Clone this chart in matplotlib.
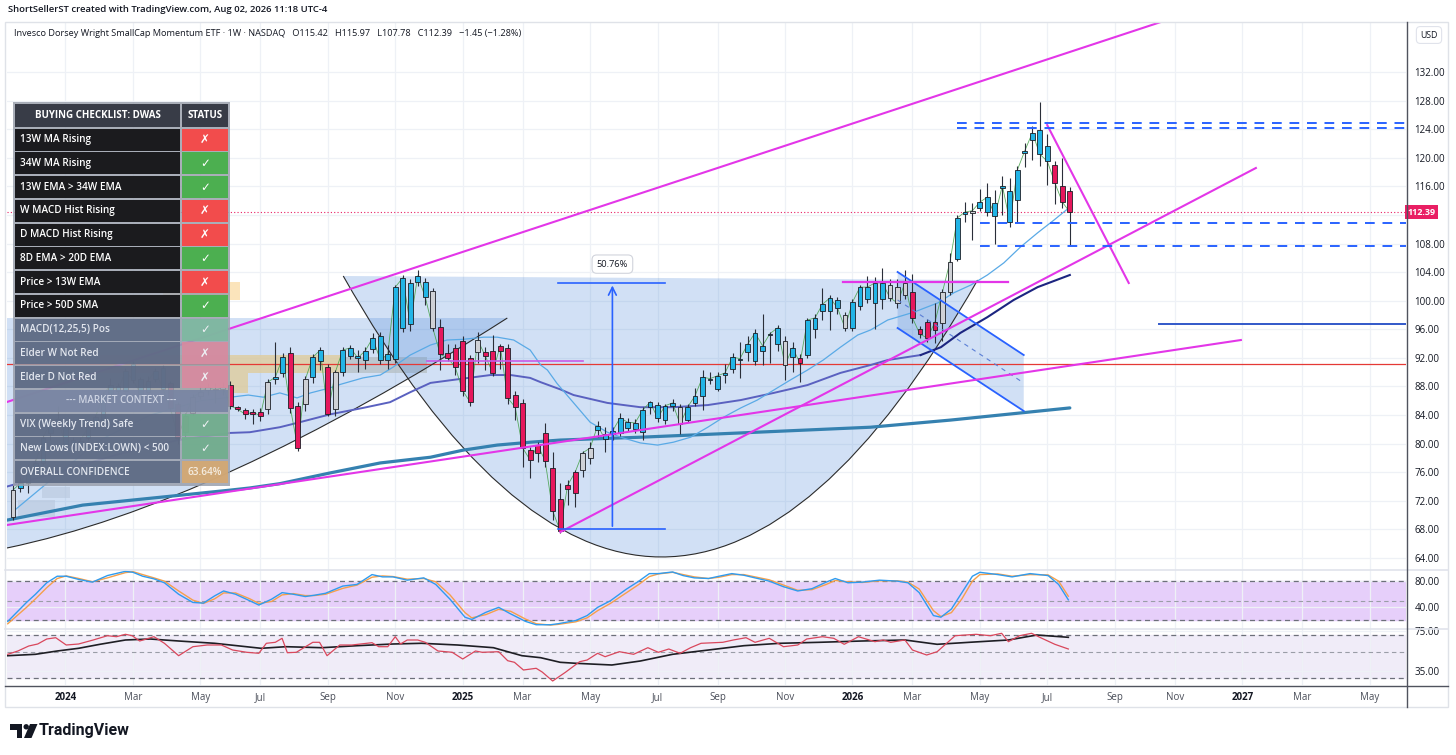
import numpy as np
import pandas as pd
import matplotlib
matplotlib.use("Agg")
import matplotlib.pyplot as plt
from matplotlib.patches import Rectangle, PathPatch, Polygon, Circle
from matplotlib.path import Path

plt.rcParams['font.family'] = ['Open Sans', 'DejaVu Sans']

# ---------------------------------------------------------------- data
START = pd.Timestamp('2023-11-13')          # first weekly bar (x = week index)

opens = [69.7, 73.8, 74.5, 76.2, 77.3, 81.5, 83.0, 82.3, 80.5, 79.8,
         80.8, 82.3, 83.0, 87.0, 88.0, 87.4, 91.2, 89.0, 87.2, 89.0,
         90.6, 88.5, 85.5, 81.6, 84.3, 86.7, 87.5, 87.7, 87.6, 88.2,
         85.1, 84.7, 84.2, 84.4, 84.8, 89.1, 89.9, 92.7, 85.3, 85.5,
         89.3, 91.6, 90.7, 84.8, 90.0, 92.3, 92.3, 91.7, 93.2, 95.0,
         91.7, 91.8, 96.2, 102.5, 102.6, 102.6, 101.4, 96.3, 92.7, 93.4,
         94.4, 92.0, 92.8, 92.8, 93.0, 93.0, 93.4, 86.8, 85.7, 79.1,
         78.7, 81.5, 76.6, 72.3, 73.6, 73.1, 76.3, 78.0, 81.9, 81.4,
         81.3, 81.5, 82.2, 82.0, 81.6, 85.1, 85.4, 83.3, 85.2, 85.1,
         83.3, 85.7, 86.7, 88.9, 87.7, 89.6, 90.4, 91.7, 92.8, 91.6,
         93.0, 95.2, 93.9, 94.4, 92.1, 92.0, 92.4, 96.1, 98.6, 98.6,
         100.1, 98.0, 96.2, 99.3, 100.3, 99.7, 100.2, 102.2, 101.9, 100.8,
         101.2, 96.0, 97.0, 95.9, 96.9, 101.2, 105.8, 112.2, 112.3, 113.0,
         112.4, 113.7, 115.8, 115.4, 114.1, 120.6, 122.5, 123.9, 121.6, 119.0,
         116.0, 115.42]
highs = [74.2, 75.4, 77.0, 77.8, 81.2, 83.5, 85.2, 82.8, 81.0, 81.0,
         82.6, 84.0, 87.2, 89.2, 88.5, 90.6, 91.6, 89.3, 89.5, 90.6,
         91.0, 88.8, 85.8, 84.3, 87.0, 88.0, 88.5, 88.5, 88.6, 88.8,
         85.3, 85.0, 84.8, 85.0, 89.0, 94.2, 92.7, 93.5, 85.8, 89.5,
         92.5, 93.5, 91.2, 90.3, 93.5, 93.8, 93.1, 93.5, 95.5, 95.6,
         93.8, 102.2, 103.6, 103.0, 104.3, 103.2, 101.8, 97.4, 94.0, 93.9,
         95.0, 92.4, 95.6, 93.5, 95.2, 94.0, 93.9, 87.3, 86.2, 79.5,
         80.3, 82.9, 78.8, 74.5, 74.9, 76.3, 79.0, 80.2, 83.2, 82.3,
         82.3, 84.3, 83.6, 83.4, 85.1, 86.0, 85.8, 85.6, 86.2, 85.5,
         85.5, 87.8, 90.3, 90.0, 90.0, 91.2, 92.7, 94.2, 95.0, 96.0,
         98.1, 95.6, 96.6, 95.0, 94.2, 92.5, 97.6, 98.2, 101.8, 100.8,
         100.5, 98.4, 100.2, 102.2, 103.5, 103.3, 104.6, 103.0, 103.0, 104.3,
         103.8, 96.5, 97.5, 99.7, 101.6, 106.7, 112.0, 113.8, 113.7, 115.7,
         116.5, 115.5, 117.4, 117.2, 118.8, 122.0, 124.5, 127.8, 123.3, 119.5,
         120.0, 115.97]
lows = [69.3, 73.2, 73.1, 75.8, 77.0, 80.5, 82.8, 79.5, 79.3, 79.5,
        80.5, 82.0, 82.8, 86.8, 87.0, 87.2, 88.5, 86.1, 86.0, 88.6,
        87.5, 84.5, 80.0, 81.0, 84.0, 86.3, 86.8, 85.7, 86.8, 84.9,
        84.5, 83.4, 82.7, 83.1, 84.2, 88.4, 89.3, 84.3, 79.0, 84.5,
        88.5, 90.3, 83.9, 83.8, 89.5, 91.8, 90.0, 90.4, 92.7, 91.2,
        90.5, 91.3, 95.6, 95.8, 102.0, 99.4, 95.8, 90.3, 91.5, 89.6,
        86.7, 85.2, 91.3, 90.3, 89.4, 90.5, 85.6, 83.3, 76.7, 75.2,
        77.5, 76.7, 69.3, 67.5, 71.4, 71.2, 75.3, 77.2, 80.9, 78.8,
        80.5, 81.1, 81.7, 81.5, 80.5, 84.1, 83.0, 82.8, 84.6, 81.4,
        83.0, 85.3, 84.7, 88.3, 87.3, 88.5, 89.9, 89.2, 91.5, 91.0,
        91.0, 91.3, 93.0, 88.9, 90.0, 88.6, 92.0, 94.8, 97.3, 95.9,
        98.2, 95.7, 95.8, 98.7, 99.7, 96.0, 98.8, 99.9, 99.0, 100.2,
        96.9, 94.8, 94.2, 94.1, 94.3, 100.8, 105.5, 111.0, 108.5, 112.5,
        111.9, 108.0, 112.0, 110.3, 110.9, 118.7, 119.7, 118.8, 116.2, 113.6,
        113.0, 107.78]
closes = [73.5, 74.5, 76.5, 77.3, 80.8, 83.0, 83.5, 79.8, 79.7, 80.4,
          82.3, 83.7, 86.8, 88.2, 87.4, 90.2, 88.9, 87.0, 88.8, 90.2,
          87.7, 85.0, 80.8, 83.9, 86.5, 87.2, 87.9, 87.5, 87.9, 85.3,
          84.8, 84.1, 84.4, 83.9, 88.6, 89.3, 92.1, 85.0, 79.4, 89.0,
          92.1, 93.1, 84.1, 90.0, 93.1, 93.4, 92.0, 93.0, 94.8, 91.7,
          92.5, 101.9, 103.2, 96.7, 103.5, 100.5, 96.2, 92.5, 92.0, 90.7,
          87.4, 85.8, 94.5, 92.3, 89.9, 93.7, 86.4, 85.1, 79.4, 77.7,
          79.8, 77.6, 70.6, 67.8, 74.2, 76.0, 78.7, 79.4, 82.5, 80.6,
          81.8, 83.6, 83.0, 82.9, 84.7, 85.8, 83.6, 85.3, 85.7, 82.7,
          85.1, 86.7, 89.3, 89.1, 89.5, 89.9, 92.1, 91.9, 93.9, 95.5,
          93.7, 95.4, 96.2, 91.0, 93.4, 91.3, 97.3, 97.6, 99.5, 100.4,
          99.0, 96.2, 99.8, 101.9, 101.9, 102.5, 102.5, 100.4, 99.7, 102.5,
          97.6, 95.3, 94.8, 97.0, 101.2, 105.4, 111.6, 112.4, 112.6, 113.8,
          114.5, 111.9, 116.1, 111.0, 118.3, 121.0, 123.5, 120.5, 119.5, 116.5,
          113.8, 112.39]
# Elder-impulse style bar colour: u = blue, d = red, n = neutral grey
impulse = ("n" "uuuuuuuuuuuuuuuuuuuu" "ddd" "nnnnn" "ddddd" "n" "uu" "dd" "n"
           "uu" "d" "n" "uuuuuuuuuuuu" "n" "ddddd" "n" "ddddddddddddd" "nn"
           "uuuuuuuuuuu" "n" "uuuuuuuuuuuuu" "n" "u" "d" "uuuuu" "n" "uuuuu"
           "nnn" "dddd" "nn" "uu" "n" "uuuuuuuuuu" "ddd")

# moving averages: (week index, price)
ema13 = [(0, 70.5), (6.3, 76), (11.6, 80.5), (18.3, 84), (25, 86), (31.4, 86.8), (33.4, 86.5),
         (35.6, 87.1), (37.9, 86.4), (39.7, 87.1), (42.3, 87.8), (43.7, 88.3), (46.7, 89.2),
         (49, 89.6), (50.7, 90.7), (53, 92.4), (55.7, 93.8), (57.9, 94.5), (60.1, 94.6),
         (62.8, 94.9), (64.6, 94.9), (66.8, 94.5), (69, 93.1), (70.4, 91.0), (71.3, 90.3),
         (72.6, 88.4), (74.8, 85.7), (77, 83), (79.3, 81.6), (81.4, 80.8), (83.7, 80.1),
         (86, 79.8), (88.1, 80.2), (90.4, 80.9), (92.7, 82.3), (94.8, 83.7), (97.1, 85),
         (99.3, 86.1), (101.5, 87.5), (103.7, 88.9), (106, 90.3), (108.1, 91.7), (110.4, 93.5),
         (112.7, 95.2), (114.4, 95.9), (116.7, 97.3), (120.2, 98.4), (123.4, 99.7),
         (125.5, 101.1), (127.8, 102.2), (130, 103.6), (132.2, 105.3), (134.4, 107.5),
         (136.7, 109.5), (138.9, 111.3), (141, 113.1)]
sma34 = [(-0.8, 74), (6, 76), (14, 78.5), (22, 80.5), (29, 81.5), (31.6, 81.6), (35.6, 82.3),
         (37.9, 82.9), (42.3, 84.1), (46.7, 85), (50.3, 85.8), (53, 87.2), (55.7, 88.5),
         (59.3, 89), (63.7, 89.6), (66.4, 89.6), (69, 89.2), (70.4, 88.6), (73, 87.6),
         (74.8, 86.8), (79.3, 85.7), (83.7, 85.1), (88.1, 85.1), (92.7, 85.4), (97.1, 86.1),
         (101.5, 87.1), (106, 88.2), (110.4, 89.9), (114.4, 91), (116.7, 91.7), (121.1, 92.4),
         (123.8, 93.5), (126.4, 95.5), (130, 97.7), (133.5, 100.1), (136.7, 101.9), (141, 103.6)]
sma40 = [(-0.8, 69.3), (9.3, 71.4), (20.6, 72.6), (29, 73.5), (31.6, 73.8), (35.6, 74.4),
         (42.3, 75.9), (49, 77.3), (55.7, 78.1), (60.1, 79.1), (64.6, 79.8), (69, 80.2),
         (73, 80.5), (83.7, 80.9), (97.1, 81.5), (114.4, 82.3), (125.1, 83.3), (141, 85.0)]

# oscillator pane 1 (two lines)
osc_k = [(-0.7, 18.5), (1.8, 47.5), (3, 60), (4.5, 77.5), (5.9, 87.5), (7.1, 87.5), (8.8, 82.5),
         (10.6, 78.5), (12.6, 88.5), (15, 95), (16, 93.5), (17.3, 87.5), (18.8, 83.5), (20.2, 77.5),
         (22.1, 60), (24, 47.5), (25.4, 46.5), (26.9, 57.5), (28.1, 65), (29.7, 60), (31.6, 50),
         (32.8, 43.5), (34.5, 52.5), (35.9, 62.5), (37.4, 60), (39, 56.5), (40.2, 58.5), (41.7, 61.5),
         (44, 72.5), (45.9, 75), (47.9, 90), (49.3, 86.5), (50.7, 86.5), (52.6, 81.5), (54.8, 85),
         (56.4, 75), (58.3, 52.5), (60.3, 25), (61.2, 21.5), (63.1, 32.5), (64.8, 40), (66.4, 30),
         (68.4, 18.5), (69.8, 13.5), (71.7, 13.5), (72.7, 15), (75.1, 20), (76.6, 27.5), (78, 40),
         (79.7, 50), (81.8, 67.5), (83.5, 80), (84.9, 91.5), (86.1, 91.5), (88, 94), (89.4, 88.5),
         (90.9, 85), (92.8, 84), (94.2, 87.5), (95.9, 91.5), (97.5, 89), (99, 85), (100.9, 80),
         (102.8, 71.5), (104.7, 65), (106.6, 68.5), (108.5, 78.5), (109.7, 84), (111.4, 77.5),
         (113.3, 78.5), (115.6, 81.5), (118, 80), (119.4, 77.5), (120.9, 62.5), (122.8, 27.5),
         (123.8, 25), (125.2, 37.5), (126.6, 62.5), (128, 87.5), (129, 93.5), (131.4, 90),
         (133.3, 86.5), (135.7, 91.5), (138.1, 88.5), (139.5, 75), (140.8, 51.5)]
osc_d = [(-0.7, 15), (1.8, 40), (3, 53), (4.5, 70), (5.9, 84), (7.1, 88), (8.8, 84), (10.6, 79),
         (12.6, 85), (15, 93), (16, 94.5), (17.3, 90), (18.8, 85), (20.2, 80), (22.1, 65), (24, 51),
         (25.4, 46), (26.9, 53), (28.1, 62), (29.7, 62), (31.6, 53), (32.8, 46), (34.5, 49),
         (35.9, 59), (37.4, 61), (39, 58), (40.2, 58), (41.7, 60), (44, 69), (45.9, 74), (47.9, 86),
         (49.3, 88), (50.7, 87), (52.6, 83), (54.8, 84), (56.4, 79), (58.3, 59), (60.3, 32),
         (61.2, 24), (63.1, 29), (64.8, 37), (66.4, 34), (68.4, 22), (69.8, 15), (71.7, 13),
         (72.7, 14), (75.1, 18), (76.6, 24), (78, 35), (79.7, 46), (81.8, 62), (83.5, 75), (84.9, 87),
         (86.1, 91), (88, 93.5), (89.4, 90), (90.9, 86.5), (92.8, 84), (94.2, 86), (95.9, 90),
         (97.5, 90), (99, 86.5), (100.9, 82), (102.8, 74), (104.7, 66), (106.6, 67), (108.5, 75),
         (109.7, 81), (111.4, 79), (113.3, 78), (115.6, 80.5), (118, 80.5), (119.4, 78.5),
         (120.9, 68), (122.8, 35), (123.8, 26), (125.2, 32), (126.6, 53), (128, 80), (129, 90),
         (131.4, 91), (133.3, 87.5), (135.7, 90), (138.1, 89.5), (139.5, 80), (140.8, 57)]

# oscillator pane 2 (red line and its black average)
rs_x = [-0.7, 0.65, 2.1, 3.3, 4.5, 5.7, 7.1, 8.75, 10.7, 12.6, 13.8, 15, 15.9, 16.9, 18.8, 20.2,
        22.1, 24, 25.9, 27.8, 29.3, 31.2, 32.8, 33.8, 35, 35.9, 36.6, 37.8, 40, 40.9, 41.9, 43.6,
        45.2, 47.9, 48.8, 50, 51, 51.7, 52.6, 54, 55, 56.7, 58.6, 60, 61.7, 62.6, 64.8, 66, 66.9,
        68.1, 69.8, 70.6, 72, 73.7, 75.6, 76.6, 78, 79, 80.9, 82.8, 84.7, 86.1, 87.5, 89, 90.4,
        91.8, 94.7, 96.1, 97.8, 99, 100.9, 102.8, 104.7, 105.9, 108, 109.5, 110.9, 112.8, 115,
        116.1, 117.1, 119, 120, 121.9, 123.3, 125.7, 128.5, 130.4, 131.9, 132.8, 134.3, 135.9,
        137.1, 139, 140.8]
rs_v = [51.7, 55, 60, 62, 67, 68.3, 61, 62, 66, 70.3, 69.3, 71.7, 70.3, 65, 69.3, 62.7, 50.3,
        59.3, 61, 61, 56, 53.7, 52.7, 62.7, 63.7, 67.7, 53.3, 53.7, 63.7, 63.7, 50.3, 61, 61,
        63.3, 59.3, 59.3, 69.3, 62, 66, 66, 63.7, 55, 53.7, 47, 55, 53.7, 54.3, 45.3, 43.7, 36,
        37.7, 34, 25, 33.7, 44.3, 46, 52.7, 49.3, 54.3, 51.7, 58.3, 53.7, 57, 52.7, 58.3, 62.7,
        63.7, 66, 68.3, 63.7, 67.7, 59.3, 61, 67, 69.3, 67.7, 61.7, 69.3, 64.3, 66, 63.7, 66, 56,
        51, 54.3, 70.3, 71.7, 70.3, 72.7, 64.3, 70.3, 72.7, 68.3, 61.7, 57]
rsma_x = [-0.7, 3, 5.9, 8.75, 11.6, 15, 18.3, 22.1, 26.9, 33.1, 36.4, 41.2, 45.9, 50.7, 54.5,
          59.3, 64.1, 67.9, 70.4, 73, 75.1, 79.9, 83.7, 88, 92.8, 97.5, 102.3, 107.6, 113.3, 119,
          123.3, 127.6, 132.8, 136.6, 140.8]
rsma_v = [50.3, 51.7, 55, 57.7, 61.7, 66, 67, 65, 62.7, 57.7, 59.3, 58.3, 60.3, 62, 62.7, 61,
          58.3, 50.3, 48.3, 43.7, 42.7, 41, 45, 51.7, 56, 60.3, 62.7, 63.7, 65, 66, 61.7, 63.7,
          66, 71, 68.7]

# drawings (week index, price)
trend_upper = [(-0.8, 85.83), (153.14, 139.0)]
trend_lower = [(-0.8, 68.62), (163.82, 94.50)]
trend_rise = [(73.03, 67.64), (165.82, 118.57)]
trend_fall = [(137.98, 124.58), (148.86, 102.48)]
cup_arc = [(44.06, 103.46), (86.38, 25.10), (128.70, 102.90)]
left_arc = [(-0.80, 65.40), (26.97, 71.41), (65.95, 97.58)]
chan_top = [(118.02, 104.02), (134.85, 92.40)]
chan_bot = [(118.02, 96.18), (134.85, 84.57)]
resist_dash = [(126.0, 124.85), (126.0, 124.10), (129.0, 110.83), (129.0, 107.70)]
support_solid = (152.9, 96.7)
base_line = (110.8, 132.8, 102.6)
violet_line = (55.3, 76.0, 91.6)
red_level = 91.1
measure = dict(x0=72.76, x1=87.05, xm=79.97, lo=68.06, hi=102.52, label='50.76%')
tan_boxes = [(11.6, 44.06, 89.88, 92.40), (18.3, 31.4, 87.09, 89.88)]
tan_light = (44.06, 55.27, 89.88, 92.12)
orange_box = (20.0, 30.3, 100.1, 102.6)
grey_boxes = [(3.87, 7.61, 72.39, 73.93), (0.67, 5.61, 69.74, 72.11)]
last_price = 112.39

price_ticks = list(range(64, 133, 4))
month_ticks = ['2024-01-01', '2024-03-04', '2024-05-06', '2024-07-01', '2024-09-02', '2024-11-04',
               '2025-01-06', '2025-03-03', '2025-05-05', '2025-07-07', '2025-09-01', '2025-11-03',
               '2026-01-05', '2026-03-02', '2026-05-04', '2026-07-06', '2026-09-07', '2026-11-02',
               '2027-01-04', '2027-03-01', '2027-05-03']
month_labels = ['2024', 'Mar', 'May', 'Jul', 'Sep', 'Nov', '2025', 'Mar', 'May', 'Jul', 'Sep', 'Nov',
                '2026', 'Mar', 'May', 'Jul', 'Sep', 'Nov', '2027', 'Mar', 'May']

check_items = ['13W MA Rising', '34W MA Rising', '13W EMA > 34W EMA', 'W MACD Hist Rising',
               'D MACD Hist Rising', '8D EMA > 20D EMA', 'Price > 13W EMA', 'Price > 50D SMA',
               'MACD(12,25,5) Pos', 'Elder W Not Red', 'Elder D Not Red', '--- MARKET CONTEXT ---',
               'VIX (Weekly Trend) Safe', 'New Lows (INDEX:LOWN) < 500', 'OVERALL CONFIDENCE']
check_status = ['✗', '✓', '✓', '✗', '✗', '✓', '✗', '✓', '✓', '✗', '✗', '', '✓', '✓', '63.64%']

# ---------------------------------------------------------------- figure
W, H = 1456, 755
fig = plt.figure(figsize=(W / 100, H / 100), dpi=100)
fig.patch.set_facecolor('white')


def frect(l, t, r, b):
    return [l / W, 1 - b / H, (r - l) / W, (b - t) / H]


ax = fig.add_axes(frect(7, 22, 1406, 570))
ax1 = fig.add_axes(frect(7, 570, 1406, 629), sharex=ax)
ax2 = fig.add_axes(frect(7, 629, 1406, 685), sharex=ax)

XMIN, XMAX = -0.8, 185.85
GRID = '#eef1f6'
TXT = '#131722'
BLUE = '#2962ff'
MAG = '#e336e8'
FILL = '#4a86d8'

tick_pos = [(pd.Timestamp(d) - START).days / 7.0 for d in month_ticks]

for a in (ax, ax1, ax2):
    a.set_facecolor('white')
    for s in a.spines.values():
        s.set_visible(False)
    a.set_xticks(tick_pos)
    a.grid(True, color=GRID, lw=0.9, zorder=0)
    a.set_axisbelow(True)
    a.yaxis.tick_right()
    a.tick_params(axis='y', length=0, pad=6, labelsize=7, labelcolor=TXT)
    a.tick_params(axis='x', length=0)
ax.set_xlim(XMIN, XMAX)
ax.tick_params(axis='x', labelbottom=False)
ax1.tick_params(axis='x', labelbottom=False)
ax2.set_xticklabels(month_labels)
ax2.tick_params(axis='x', labelsize=7, labelcolor='#4a4e59', pad=5)
for lbl in ax2.get_xticklabels():
    if lbl.get_text().isdigit():
        lbl.set_fontweight('bold')
        lbl.set_color(TXT)

# ---------------------------------------------------------------- main pane
ax.set_ylim(62.32, 139.0)
ax.set_yticks(price_ticks)
# the 112 label sits under the last-price tag, as in the original
ax.set_yticklabels(['' if abs(v - last_price) < 2 else f'{v:.2f}' for v in price_ticks])

# background zones
x0, x1, y0, y1 = tan_light
ax.add_patch(Rectangle((x0, y0), x1 - x0, y1 - y0, fc='#d8cfb8', ec='none', alpha=0.7, zorder=1.2))
for (x0, x1, y0, y1) in tan_boxes:
    ax.add_patch(Rectangle((x0, y0), x1 - x0, y1 - y0, fc='#e0cc9c', ec='none', alpha=0.8, zorder=1.7))
x0, x1, y0, y1 = orange_box
ax.add_patch(Rectangle((x0, y0), x1 - x0, y1 - y0, fc='#fbe1b4', ec='none', alpha=0.9, zorder=1))
for (x0, x1, y0, y1) in grey_boxes:
    ax.add_patch(Rectangle((x0, y0), x1 - x0, y1 - y0, fc='#dedede', ec='none', alpha=0.6, zorder=1))

# cup arc (quadratic curve) with fill
p0, p1, p2 = cup_arc
ax.add_patch(PathPatch(Path([p0, p1, p2, p0], [Path.MOVETO, Path.CURVE3, Path.CURVE3, Path.CLOSEPOLY]),
                       fc=FILL, ec='none', alpha=0.25, zorder=1.5))
ax.add_patch(PathPatch(Path([p0, p1, p2], [Path.MOVETO, Path.CURVE3, Path.CURVE3]),
                       fc='none', ec='#2b2b2b', lw=0.8, zorder=3))
# left curved wedge
q0, q1, q2 = left_arc
ax.add_patch(PathPatch(Path([q0, q1, q2, (XMIN - 2, q2[1]), (XMIN - 2, q0[1]), q0],
                            [Path.MOVETO, Path.CURVE3, Path.CURVE3, Path.LINETO, Path.LINETO, Path.CLOSEPOLY]),
                       fc=FILL, ec='none', alpha=0.25, zorder=1.5))
ax.add_patch(PathPatch(Path([q0, q1, q2], [Path.MOVETO, Path.CURVE3, Path.CURVE3]),
                       fc='none', ec='#2b2b2b', lw=0.8, zorder=3))
# descending channel
ax.add_patch(Polygon([chan_top[0], chan_top[1], chan_bot[1], chan_bot[0]], closed=True,
                     fc=FILL, ec='none', alpha=0.25, zorder=1.5))
for seg in (chan_top, chan_bot):
    ax.plot([seg[0][0], seg[1][0]], [seg[0][1], seg[1][1]], color=BLUE, lw=1.3, zorder=6)
mid = [((chan_top[i][0] + chan_bot[i][0]) / 2, (chan_top[i][1] + chan_bot[i][1]) / 2) for i in range(2)]
ax.plot([mid[0][0], mid[1][0]], [mid[0][1], mid[1][1]], color='#5b7fd6', lw=0.8, ls=(0, (4, 4)), zorder=6)

# moving averages
xs_, ys_ = zip(*sma40)
ax.plot(xs_, ys_, color='#3581b0', lw=2.3, zorder=3, solid_capstyle='round')
xs_, ys_ = zip(*sma34)
xs_ = np.array(xs_); ys_ = np.array(ys_)
early = xs_ <= 121.1
ax.plot(xs_[early], ys_[early], color='#5a61c0', lw=1.4, zorder=3)
ax.plot(xs_[~early | (xs_ == 121.1)], ys_[~early | (xs_ == 121.1)], color='#1c2580', lw=1.5, zorder=3)
xs_, ys_ = zip(*ema13)
ax.plot(xs_, ys_, color='#5aaae6', lw=0.9, zorder=3)

# candles
idx = np.arange(len(closes))
o = np.array(opens); c = np.array(closes)
col_map = {'u': '#22b4e6', 'd': '#e6175c', 'n': '#cfd1d6'}
bar_cols = [col_map[k] for k in impulse]
lo_body = np.minimum(o, c)
h_body = np.maximum(np.abs(c - o), 0.18)
ax.plot(idx, closes, color='#43a047', lw=0.6, alpha=0.85, zorder=4)
ax.vlines(idx, lows, highs, color='#2a2e39', lw=0.8, zorder=4.5)
ax.bar(idx, h_body, bottom=lo_body, width=0.64, color=bar_cols, edgecolor='#1c1f26',
       linewidth=0.6, zorder=5)

# trend lines
for seg in (trend_upper, trend_lower, trend_rise, trend_fall):
    ax.plot([seg[0][0], seg[1][0]], [seg[0][1], seg[1][1]], color=MAG, lw=1.5, zorder=6)
ax.plot([base_line[0], base_line[1]], [base_line[2]] * 2, color=MAG, lw=1.6, zorder=6)
ax.plot([violet_line[0], violet_line[1]], [violet_line[2]] * 2, color='#c75ae8', lw=1.2, zorder=6)
ax.axhline(red_level, color='#e53935', lw=0.9, zorder=2.5)
for (xs0, yv) in resist_dash:
    ax.plot([xs0, XMAX], [yv, yv], color=BLUE, lw=1.4, ls=(0, (5, 4)), zorder=6)
ax.plot([support_solid[0], XMAX], [support_solid[1]] * 2, color='#3158c9', lw=1.4, zorder=6)
ax.axhline(last_price, color='#e91e63', lw=0.8, ls=(0, (1, 2)), zorder=2.5)

# price range measurement
m = measure
ax.plot([m['x0'], m['x1']], [m['hi'], m['hi']], color=BLUE, lw=1.2, zorder=6)
ax.plot([m['x0'], m['x1']], [m['lo'], m['lo']], color=BLUE, lw=1.2, zorder=6)
ax.annotate('', xy=(m['xm'], m['hi']), xytext=(m['xm'], m['lo']),
            arrowprops=dict(arrowstyle='->', color=BLUE, lw=1.2, mutation_scale=14), zorder=6)
ax.text(m['xm'], m['hi'] + 2.6, m['label'], ha='center', va='center', fontsize=6.7, color=TXT, zorder=7,
        bbox=dict(boxstyle='round,pad=0.5', fc='white', ec='#d1d4dc', lw=0.8))

# last price tag
ax.text(1.0012, last_price, f'{last_price:.2f}', transform=ax.get_yaxis_transform(),
        ha='left', va='center', fontsize=6.5, color='white', fontweight='bold', zorder=8, clip_on=False,
        bbox=dict(boxstyle='square,pad=0.3', fc='#e91e63', ec='none'))

# ---------------------------------------------------------------- pane 1
ax1.set_ylim(7, 97)
ax1.set_yticks([80, 40])
ax1.set_yticklabels(['80.00', '40.00'])
ax1.axhspan(20, 80, color='#e6cffa', zorder=0.5)
ax1.axhline(80, color='#6d707a', lw=0.9, ls=(0, (4, 3)), zorder=1)
ax1.axhline(50, color='#9a9da7', lw=0.8, ls=(0, (4, 3)), zorder=1)
ax1.axhline(20, color='#6d707a', lw=0.9, ls=(0, (4, 3)), zorder=1)
kx, kv = zip(*osc_k)
dx, dv = zip(*osc_d)
ax1.plot(dx, dv, color='#f5a04b', lw=1.0, zorder=3)
ax1.plot(kx, kv, color='#2f9bef', lw=1.0, zorder=3)

# ---------------------------------------------------------------- pane 2
ax2.set_ylim(21, 77)
ax2.set_yticks([75, 35])
ax2.set_yticklabels(['75.00', '35.00'])
ax2.axhspan(28, 71, color='#f0ecf8', zorder=0.5)
ax2.axhline(71, color='#6d707a', lw=0.9, ls=(0, (4, 3)), zorder=1)
ax2.axhline(54, color='#9a9da7', lw=0.8, ls=(0, (4, 3)), zorder=1)
ax2.axhline(28, color='#6d707a', lw=0.9, ls=(0, (4, 3)), zorder=1)
ax2.plot(rsma_x, rsma_v, color='#1e1e24', lw=1.2, zorder=3)
ax2.plot(rs_x, rs_v, color='#d9475c', lw=0.9, zorder=3)

# ---------------------------------------------------------------- overlay (frame, legend, table, logo)
ui = fig.add_axes([0, 0, 1, 1])
ui.set_xlim(0, W)
ui.set_ylim(H, 0)
ui.axis('off')
ui.set_zorder(10)
ui.patch.set_alpha(0)

ui.add_patch(Rectangle((5, 22), 1443, 685, fc='none', ec='#dfe2e8', lw=1))
ui.plot([5, 1448], [570, 570], color='#e0e3eb', lw=1.2)
ui.plot([5, 1448], [629, 629], color='#e0e3eb', lw=1.2)
ui.plot([5, 1448], [685.5, 685.5], color='#50535e', lw=1)
ui.plot([1406.5, 1406.5], [22, 707], color='#50535e', lw=1)

ui.text(8, 10, 'ShortSellerST created with TradingView.com, Aug 02, 2026 11:18 UTC-4',
        fontsize=6.8, color=TXT, va='center', ha='left', fontweight='semibold')
ui.text(14, 33, 'Invesco Dorsey Wright SmallCap Momentum ETF · 1W · NASDAQ   O115.42   H115.97   '
        'L107.78   C112.39   −1.45 (−1.28%)', fontsize=6.6, color=TXT, va='center', ha='left')
ui.text(1429, 35, 'USD', ha='center', va='center', fontsize=6.3, color=TXT,
        bbox=dict(boxstyle='round,pad=0.45', fc='white', ec='#e0e3eb', lw=0.8))

# checklist table
TX0, TSPLIT, TX1 = 15, 181, 228
ui.add_patch(Rectangle((13, 102), 217, 384, fc='#9aa0ac', ec='none', alpha=0.85, zorder=1))
ui.add_patch(Rectangle((TX0, 104), TSPLIT - TX0 - 1, 23, fc='#383c47', zorder=2))
ui.add_patch(Rectangle((TSPLIT + 1, 104), TX1 - TSPLIT - 1, 23, fc='#383c47', zorder=2))
ui.text((TX0 + TSPLIT) / 2, 115.5, 'BUYING CHECKLIST: DWAS', ha='center', va='center',
        fontsize=7, color='white', fontweight='bold', zorder=3)
ui.text((TSPLIT + TX1) / 2 + 0.5, 115.5, 'STATUS', ha='center', va='center',
        fontsize=7, color='white', fontweight='bold', zorder=3)
RH = 23.75
for i, (item, st) in enumerate(zip(check_items, check_status)):
    top = 128.5 + i * RH
    hgt = RH - 1.6
    yc = top + hgt / 2
    dark = i < 8
    if item.startswith('---'):
        ui.add_patch(Rectangle((TX0, top), TX1 - TX0, hgt, fc='#7784a2', alpha=0.9, zorder=2))
        ui.text((TX0 + TX1) / 2, yc, item, ha='center', va='center', fontsize=7.1,
                color='#cdd3e2', zorder=3, fontweight='semibold')
        continue
    ui.add_patch(Rectangle((TX0, top), TSPLIT - TX0 - 1, hgt,
                           fc='#1b1b1e' if dark else '#5a6782', alpha=1 if dark else 0.88, zorder=2))
    if st == '✗':
        sc = '#f24c4c' if dark else '#d98a9f'
    elif st == '✓':
        sc = '#4caf50' if dark else ('#7db9a0' if i == 8 else '#6fae8c')
    else:
        sc = '#d6a870'
    ui.add_patch(Rectangle((TSPLIT + 1, top), TX1 - TSPLIT - 1, hgt, fc=sc,
                           alpha=1 if dark else 0.9, zorder=2))
    tc = 'white' if dark else '#e3e7ef'
    ui.text(TX0 + 5, yc, item, ha='left', va='center', fontsize=7.2, color=tc, zorder=3,
            fontweight='semibold')
    if len(st) == 1:
        ui.text((TSPLIT + TX1) / 2 + 0.5, yc, st, ha='center', va='center', fontsize=8.5,
                color=tc if dark else '#eef0f4', zorder=3, family=['DejaVu Sans'], fontweight='bold')
    else:
        ui.text((TSPLIT + TX1) / 2 + 0.5, yc, st, ha='center', va='center', fontsize=7.2,
                color='#f4ece0', zorder=3, fontweight='semibold')

# TradingView logo
ui.add_patch(Polygon([(10, 724), (22, 724), (22, 738), (16.5, 738), (16.5, 729.5), (10, 729.5)],
                     closed=True, fc=TXT, ec='none'))
ui.add_patch(Circle((26.2, 726.8), 2.7, fc=TXT, ec='none'))
ui.add_patch(Polygon([(30, 724), (37.5, 724), (31.5, 738), (24, 738)], closed=True, fc=TXT, ec='none'))
ui.text(39, 731, 'TradingView', fontsize=11.5, fontweight='bold', color=TXT, va='center', ha='left',
        family=['Roboto', 'DejaVu Sans'])

fig.savefig('out.png', dpi=100, facecolor='white')
